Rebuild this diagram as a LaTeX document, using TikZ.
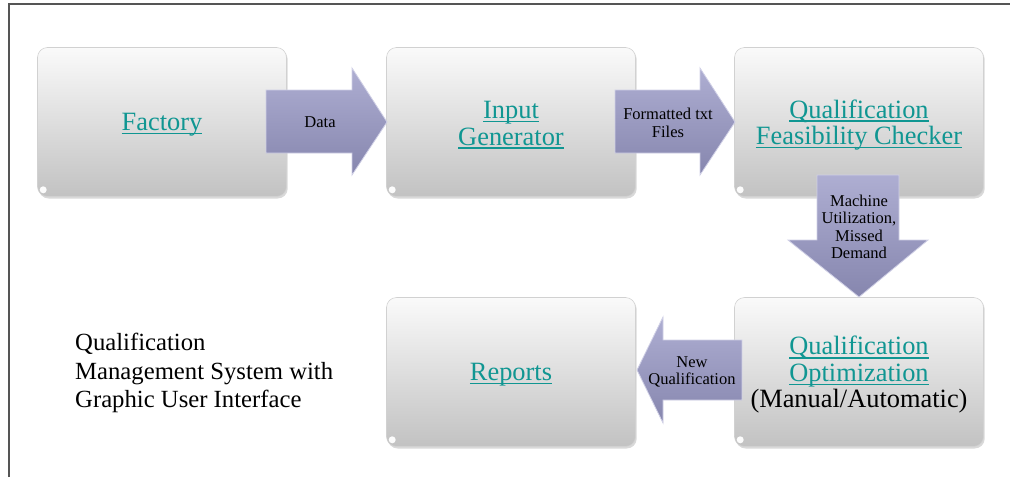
\documentclass[tikz,border=0pt]{standalone}
\usepackage{fontspec}
\setmainfont{Liberation Serif}
\usetikzlibrary{shadows}
\definecolor{lnk}{RGB}{16,150,146}
\definecolor{framecol}{RGB}{85,85,85}
\definecolor{boxtop}{RGB}{250,250,250}
\definecolor{boxbot}{RGB}{194,194,194}
\definecolor{arrtop}{RGB}{174,174,210}
\definecolor{arrbot}{RGB}{134,134,174}
\definecolor{arredge}{RGB}{208,208,230}
\newlength\lkwd
\newcommand\lk[1]{\settowidth\lkwd{#1}\makebox[0pt][l]{\color{lnk}\rule[-3.6pt]{\lkwd}{1.5pt}}{\color{lnk}#1}}
\tikzset{
  stagebox/.style={rounded corners=10pt, minimum width=249pt, minimum height=149pt,
    top color=boxtop, bottom color=boxbot, draw=white!82!black, line width=0.6pt,
    drop shadow={opacity=0.3, shadow xshift=1.2pt, shadow yshift=-2pt},
    inner sep=0pt},
  boxlabel/.style={align=center, inner sep=0pt, font=\fontsize{26.4}{26.5}\selectfont},
  flowarrow/.style={top color=arrtop, bottom color=arrbot, draw=arredge, line width=0.8pt},
  arrlabel/.style={align=center, inner sep=0pt, font=\fontsize{16.5}{17.3}\selectfont},
  glint/.style={fill=white, draw=none, opacity=0.95},
  framestyle/.style={draw=framecol, line width=1.5pt}
}
\begin{document}
\begin{tikzpicture}[x=1pt,y=-1pt]
\useasboundingbox (0,0) rectangle (1010,477);
% frame
\coordinate (fbl) at (9,477);
\coordinate (ftl) at (9,4);
\coordinate (ftr) at (1010,4);
\draw[framestyle] (fbl) -- (ftl) -- (ftr);
% boxes
\node[stagebox] (factory) at (162,122) {};
\node[stagebox] (input) at (511,122) {};
\node[stagebox] (qfc) at (859,122) {};
\node[stagebox] (reports) at (511,372) {};
\node[stagebox] (qo) at (859,372) {};
% corner glints
\foreach \b in {factory,input,qfc,reports,qo}{
  \fill[glint] ([xshift=6pt,yshift=7pt]\b.south west) circle[radius=3.5pt];
}
% box labels
\node[boxlabel] (tfactory) at ([yshift=-3pt]factory.center) {\lk{Factory}};
\node[boxlabel] (tinput) at ([yshift=-3pt]input.center) {\lk{Input}\\\lk{Generator}};
\node[boxlabel] (tqfc) at ([yshift=-3pt]qfc.center) {\lk{Qualification}\\\lk{Feasibility Checker}};
\node[boxlabel] (treports) at ([yshift=-3pt]reports.center) {\lk{Reports}};
\node[boxlabel] (tqo) at ([yshift=-3pt]qo.center) {\lk{Qualification}\\\lk{Optimization}\\(Manual/Automatic)};
% block arrows
\draw[flowarrow] (266,90) -- (352,90) -- (352,68) -- (387,122) -- (352,175) -- (352,153) -- (266,153) -- cycle;
\draw[flowarrow] (615,90) -- (700,90) -- (700,68) -- (735,122) -- (700,175) -- (700,153) -- (615,153) -- cycle;
\draw[flowarrow] (817,175) -- (899,175) -- (899,240) -- (928,240) -- (859,297) -- (788,240) -- (817,240) -- cycle;
\draw[flowarrow] (742,340) -- (663,340) -- (663,317) -- (637,370) -- (663,423) -- (663,400) -- (742,400) -- cycle;
% arrow labels
\node[arrlabel] (ldata) at (320,122) {Data};
\node[arrlabel] (lfmt) at (668,123) {Formatted txt\\Files};
\node[arrlabel] (lmach) at (859,227) {Machine\\Utilization,\\Missed\\Demand};
\node[arrlabel] (lnew) at (692,372) {New\\Qualification};
% side text
\node[anchor=north west, align=left, inner sep=0pt, font=\fontsize{24.7}{28.5}\selectfont] (title) at (75,333)
  {Qualification\\Management System with\\Graphic User Interface};
\end{tikzpicture}
\end{document}
